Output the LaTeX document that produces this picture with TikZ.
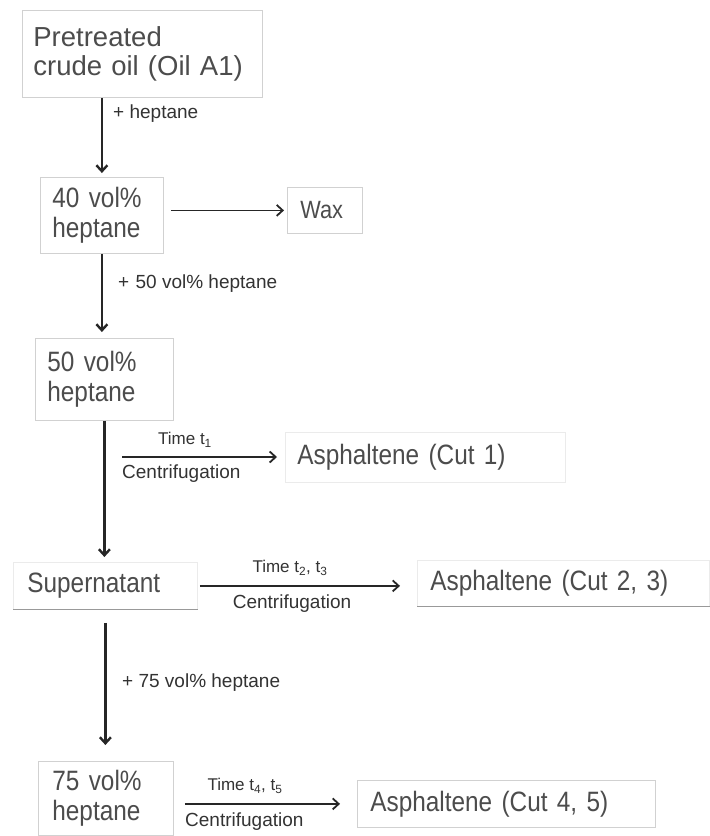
\documentclass[tikz,border=0pt]{standalone}
\usepackage{fontspec}
\setmainfont{Liberation Sans}
\newfontfamily\condfont[FakeStretch=0.87]{Liberation Sans}
\usetikzlibrary{arrows.meta}
\begin{document}
\begin{tikzpicture}[x=1pt,y=-1pt,
  box/.style={draw=black!18, line width=0.8pt, inner ysep=0pt, align=left, anchor=north west, text=black!70, font=\condfont\fontsize{28}{30}\selectfont},
  lbl/.style={text=black!80, inner sep=0pt, font=\fontsize{19}{21}\selectfont},
  timelbl/.style={font=\fontsize{17}{19}\selectfont},
  vflow/.style={draw=black!85, line width=2.4pt, -{Straight Barb[length=6pt,width=11pt]}},
  hflow/.style={draw=black!85, line width=1.8pt, -{Straight Barb[length=6pt,width=11pt]}},
]
\useasboundingbox (0,0) rectangle (710,836);
\fill[white] (0,0) rectangle (710,836);

% nodes
\node[box, inner xsep=11pt, text width=218pt, minimum height=87pt, font=\fontsize{27.5}{29}\selectfont] (oil) at (22,10) {Pretreated\\crude~oil~(Oil~A1)};
\node[box, inner xsep=12pt, text width=99pt, minimum height=76pt] (v40) at (40,177) {40 vol\%\\heptane};
\node[box, inner xsep=13pt, text width=49pt, minimum height=46pt, font=\condfont\fontsize{25}{28}\selectfont] (wax) at (287,187) {Wax};
\node[box, inner xsep=12pt, text width=114pt, minimum height=82pt] (v50) at (35,338) {50 vol\%\\heptane};
\node[box, draw=black!8, inner xsep=12pt, text width=256pt, minimum height=50pt] (cut1) at (285,432) {Asphaltene (Cut 1)};
\node[box, draw=black!8, inner xsep=14pt, text width=156pt, minimum height=47pt] (sup) at (13,562) {Supernatant};
\node[box, draw=black!8, inner xsep=13pt, text width=266pt, minimum height=46pt] (cut23) at (417,560) {Asphaltene (Cut 2, 3)};
\node[box, inner xsep=14pt, text width=107pt, minimum height=74pt] (v75) at (38,761) {75 vol\%\\heptane};
\node[box, inner xsep=13pt, text width=272pt, minimum height=47pt] (cut45) at (357,780) {Asphaltene (Cut 4, 5)};

\draw[black!40, line width=1pt] (sup.south west) -- (sup.south east);
\draw[black!40, line width=1pt] (cut23.south west) -- (cut23.south east);

% connectors and labels
\draw[vflow, shorten >=4pt] (oil.south -| v40.north) -- (v40.north);
\node[lbl, anchor=west] (l1) at (113,114) {+ heptane};

\draw[hflow, shorten <=7pt, shorten >=3pt] (v40.east |- wax.west) -- (wax.west);

\draw[vflow, shorten >=6pt] (v40.south) -- (v40.south |- v50.north);
\node[lbl, anchor=west] (l2) at (118,284) {+\,\,50 vol\% heptane};

\draw[vflow, shorten >=5pt] (v50.south) -- (v50.south |- sup.north);

\coordinate (c1) at (122,457);
\draw[hflow, shorten >=8pt] (c1) -- (c1 -| cut1.west);
\node[lbl, timelbl] (t1) at (185,440) {Time t\textsubscript{1}};
\node[lbl, anchor=west] (cf1) at (122,474) {Centrifugation};

\draw[hflow, shorten <=2pt, shorten >=17pt] (sup.east) -- (sup.east -| cut23.west);
\node[lbl, timelbl] (t23) at (290,568) {Time t\textsubscript{2}, t\textsubscript{3}};
\node[lbl] (cf2) at (292,604) {Centrifugation};

\draw[vflow, shorten <=13pt, shorten >=16pt] (sup.south) -- (sup.south |- v75.north);
\node[lbl, anchor=west] (l3) at (122,683) {+ 75 vol\% heptane};

\draw[hflow, shorten <=11pt, shorten >=17pt] (v75.east |- cut45.west) -- (cut45.west);
\node[lbl, timelbl] (t45) at (245,786) {Time t\textsubscript{4}, t\textsubscript{5}};
\node[lbl, anchor=west] (cf3) at (185,822) {Centrifugation};
\end{tikzpicture}
\end{document}
